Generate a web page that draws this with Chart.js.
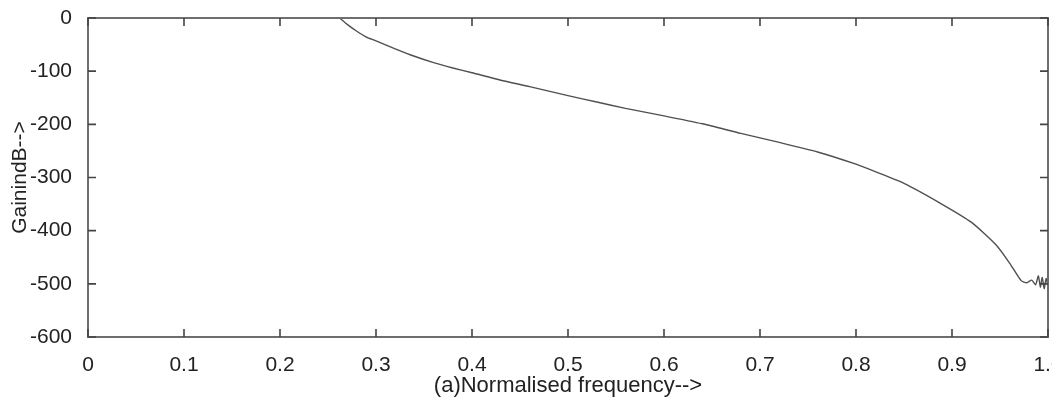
<!DOCTYPE html>
<html>
<head>
<meta charset="utf-8">
<script src="https://cdn.jsdelivr.net/npm/chart.js@4/dist/chart.umd.min.js"></script>
<style>
  html, body { margin: 0; padding: 0; background: #fff; }
  #wrap { width: 1052px; height: 399px; }
</style>
</head>
<body>
<div id="wrap"><canvas id="gainChart" width="1052" height="399"></canvas></div>
<script>
// values (normalised frequency vs gain in dB)
const freq = [0.262, 0.27, 0.28, 0.29, 0.30, 0.32, 0.34, 0.36, 0.38, 0.40,
  0.43, 0.46, 0.50, 0.53, 0.56, 0.60, 0.64, 0.68, 0.72, 0.76,
  0.80, 0.82, 0.85, 0.8875, 0.92, 0.946, 0.96, 0.972, 0.978, 0.983,
  0.987, 0.990, 0.992, 0.994, 0.996, 0.998, 1.0];
const gain = [0, -12, -25, -36, -43, -58, -72, -84, -94, -103,
  -117, -129, -146, -158, -170, -184, -199, -217, -234, -252,
  -275, -289, -311, -348, -384, -427, -461, -494, -498, -493,
  -502, -485, -506, -488, -509, -490, -505];

const xTicks = [0, 0.1, 0.2, 0.3, 0.4, 0.5, 0.6, 0.7, 0.8, 0.9, 1];
const yTicks = [-600, -500, -400, -300, -200, -100, 0];

const points = freq.map((f, i) => ({ x: f, y: gain[i] }));
const fontFamily = '"Liberation Sans", Arial, sans-serif';

// box round the plot with inward tick marks on all four sides
const boxPlugin = {
  id: 'box',
  afterDatasetsDraw(chart) {
    const { ctx, chartArea: a, scales } = chart;
    const len = 8;
    ctx.save();
    ctx.strokeStyle = '#6e6e6e';
    ctx.lineWidth = 2;
    ctx.strokeRect(a.left, a.top, a.right - a.left, a.bottom - a.top);
    ctx.strokeStyle = '#444';
    ctx.lineWidth = 1.6;
    ctx.beginPath();
    xTicks.forEach(v => {
      const px = scales.x.getPixelForValue(v);
      ctx.moveTo(px, a.bottom); ctx.lineTo(px, a.bottom - len);
      ctx.moveTo(px, a.top); ctx.lineTo(px, a.top + len);
    });
    yTicks.forEach(v => {
      const py = scales.y.getPixelForValue(v);
      ctx.moveTo(a.left, py); ctx.lineTo(a.left + len, py);
      ctx.moveTo(a.right, py); ctx.lineTo(a.right - len, py);
    });
    ctx.stroke();
    ctx.restore();
  }
};

new Chart(document.getElementById('gainChart'), {
  type: 'scatter',
  data: {
    datasets: [{
      data: points,
      showLine: true,
      borderColor: '#505050',
      borderWidth: 1.4,
      pointRadius: 0,
      tension: 0.2
    }]
  },
  options: {
    responsive: false,
    animation: false,
    layout: { padding: { top: 18, right: 4, left: 0, bottom: 0 } },
    plugins: { legend: { display: false }, tooltip: { enabled: false } },
    scales: {
      x: {
        type: 'linear',
        min: 0,
        max: 1,
        grid: { display: false },
        border: { display: false },
        afterBuildTicks: s => { s.ticks = xTicks.map(v => ({ value: v })); },
        afterFit: s => { s.height = 62; s.paddingLeft = 0; s.paddingRight = 0; },
        ticks: {
          color: '#222',
          padding: 8,
          maxRotation: 0,
          font: { family: fontFamily, size: 21 }
        },
        title: {
          display: true,
          text: '(a)Normalised frequency-->',
          color: '#222',
          padding: { top: 0, bottom: 0 },
          font: { family: fontFamily, size: 22 }
        }
      },
      y: {
        type: 'linear',
        min: -600,
        max: 0,
        grid: { display: false },
        border: { display: false },
        afterBuildTicks: s => { s.ticks = yTicks.map(v => ({ value: v })); },
        afterFit: s => { s.width = 88; s.paddingTop = 0; s.paddingBottom = 0; },
        ticks: {
          color: '#222',
          padding: 8,
          font: { family: fontFamily, size: 21 }
        },
        title: {
          display: true,
          text: 'GainindB-->',
          color: '#222',
          padding: { top: 8, bottom: 0 },
          font: { family: fontFamily, size: 21 }
        }
      }
    }
  },
  plugins: [boxPlugin]
});
</script>
</body>
</html>
